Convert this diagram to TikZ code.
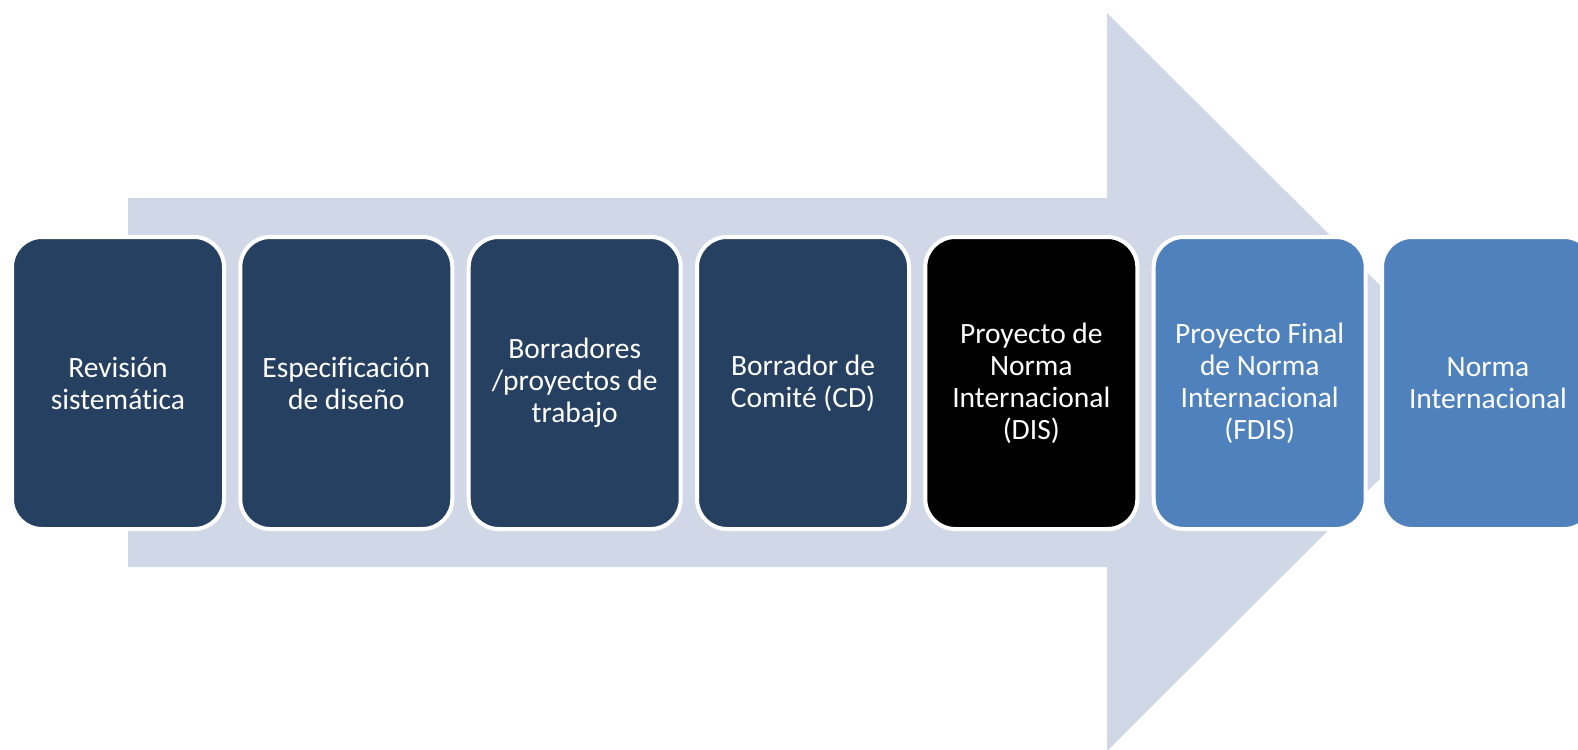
\documentclass[tikz,border=0pt]{standalone}
\usepackage{fontspec}
\setmainfont{Carlito}[Ligatures={NoCommon}]
\definecolor{navy}{RGB}{38,64,97}
\definecolor{lightblue}{RGB}{79,129,189}
\definecolor{arrowbg}{RGB}{208,216,232}
\tikzset{
  stagebox/.style={rectangle, rounded corners=30pt, draw=white, line width=4pt,
    minimum width=212pt, minimum height=292pt, inner sep=0pt,
    text=white, align=center, font=\fontsize{29.5}{32}\selectfont},
}
\begin{document}
\begin{tikzpicture}[x=1pt,y=-1pt]
\useasboundingbox (0,0) rectangle (1578,749);
\clip (0,0) rectangle (1578,749);
% big arrow
\fill[arrowbg] (128,198) -- (1107,198) -- (1107,13) -- (1477,382) -- (1107,751) -- (1107,567) -- (128,567) -- cycle;
% stages
\node[stagebox, fill=navy] (s1) at (118,383) {Revisión\\sistemática};
\node[stagebox, fill=navy] (s2) at (346.3,383) {Especificación\\de diseño};
\node[stagebox, fill=navy] (s3) at (574.7,383) {Borradores\\/proyectos de\\trabajo};
\node[stagebox, fill=navy] (s4) at (803,383) {Borrador de\\Comité (CD)};
\node[stagebox, fill=black] (s5) at (1031.3,383) {Proyecto de\\Norma\\Internacional\\(DIS)};
\node[stagebox, fill=lightblue] (s6) at (1259.7,383) {Proyecto Final\\de Norma\\Internacional\\(FDIS)};
\node[stagebox, fill=lightblue] (s7) at (1488,383) {Norma\\Internacional};
\end{tikzpicture}
\end{document}
